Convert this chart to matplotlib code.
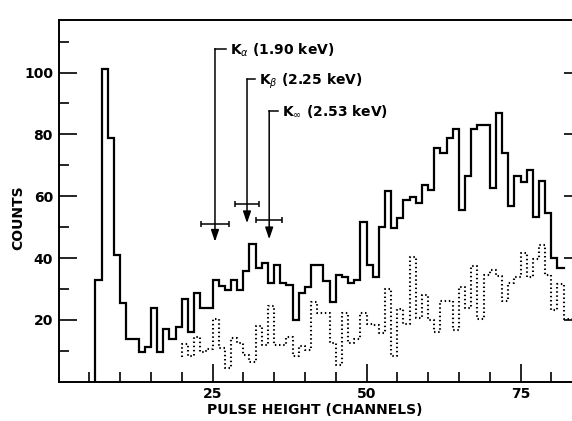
import numpy as np
import matplotlib
matplotlib.use('Agg')
import matplotlib.pyplot as plt

plt.rcParams['font.family'] = ['DejaVu Sans']
plt.rcParams['mathtext.fontset'] = 'dejavusans'

# pulse height spectrum, one value per channel
solid_start = 6
solid_counts = [33, 101, 79, 41, 25.4, 14, 14, 9.7, 11.4, 23.8,
                9.7, 17, 14, 17.8, 26.7, 16.2, 28.7, 24, 24, 32.8,
                31, 29.8, 32.8, 29.8, 35.8, 44.6, 36.8, 38.4, 32, 37.8,
                31.8, 31.3, 20, 28.8, 30.8, 37.7, 37.7, 32.7, 25.9, 34.6,
                34, 31.9, 32.8, 51.7, 37.9, 34, 50, 61.7, 49.7, 52.9,
                58.8, 59.6, 57.7, 63.7, 61.9, 75.6, 74, 78.8, 81.7, 55.6,
                66.6, 81.7, 82.9, 82.9, 62.6, 86.9, 74, 56.7, 66.6, 64.5,
                68.5, 53.4, 64.8, 54.5, 40, 36.7]

# background run (dotted)
dotted_start = 20
dotted_floor = 8
dotted_counts = [12.2, 8.3, 14.4, 9.5, 10.6, 20.2, 11, 4.4, 14.3, 12.6,
                 8.8, 6.3, 18.1, 11.9, 24.5, 11.9, 11.9, 14.4, 8.5, 11.6,
                 10.3, 25.9, 22.2, 22.2, 12.4, 5.4, 22.2, 12.4, 13.8, 22.2,
                 18.7, 18.4, 15.8, 29.9, 8.2, 23.5, 18.6, 40.5, 20.7, 28.2,
                 20.1, 16.2, 26.1, 26.1, 16.7, 30.5, 23.8, 37.5, 20.2, 34.6,
                 36, 34.2, 26.1, 31.9, 34, 41.8, 34, 39.6, 44.1, 34.6,
                 23.2, 31.6, 20.2, 20.2]

# K lines: name, energy, expected channel, channel uncertainty
k_names = [r'\alpha', r'\beta', r'\infty']
k_energy = [1.90, 2.25, 2.53]
k_channel = [25.4, 30.6, 34.2]
k_halfwidth = [2.3, 2.0, 2.1]

# where each marker sits on the plot
k_bar_y = [51.1, 57.5, 52.4]
k_tip_y = [45.3, 51.3, 46.1]
k_top_y = [107.7, 97.9, 87.6]
k_stub = [1.8, 1.35, 1.35]


def steps(start, counts, floor):
    edges = np.arange(start, start + len(counts) + 1)
    x = np.concatenate([[start], np.repeat(edges, 2)[1:-1]])
    y = np.concatenate([[floor], np.repeat(counts, 2)])
    return x, y


fig = plt.figure(figsize=(5.72, 4.21), dpi=100)
ax = fig.add_axes([0.1023, 0.0931, 0.9154, 0.8594])
ax.set_xlim(0, 85)
ax.set_ylim(0, 117)

x, y = steps(solid_start, solid_counts, 0)
ax.plot(x, y, color='k', lw=1.6, solid_joinstyle='miter')

x, y = steps(dotted_start, dotted_counts, dotted_floor)
ax.plot(x, y, color='k', lw=1.5, linestyle=(0, (0.7, 1.3)))

for name, e, ch, hw, by, ty, top, stub in zip(k_names, k_energy, k_channel, k_halfwidth,
                                              k_bar_y, k_tip_y, k_top_y, k_stub):
    ax.annotate('', xy=(ch, ty), xytext=(ch, top),
                arrowprops=dict(arrowstyle='-|>,head_length=0.5,head_width=0.17',
                                color='k', lw=1.1, mutation_scale=14,
                                shrinkA=0, shrinkB=0))
    ax.plot([ch, ch + stub], [top, top], color='k', lw=1.1)
    ax.errorbar(ch, by, xerr=hw, fmt='none', ecolor='k', elinewidth=1.1,
                capsize=2.3, capthick=1.1)
    ax.annotate(r'K$_{%s}$ (%.2f keV)' % (name, e), xy=(ch + stub, top),
                xytext=(3, -4), textcoords='offset points',
                ha='left', va='baseline', fontsize=10, fontweight='bold')

ax.set_xticks([25, 50, 75])
ax.set_xticks([5, 10, 15, 20, 30, 35, 40, 45, 55, 60, 65, 70, 80], minor=True)
ax.set_yticks([20, 40, 60, 80, 100])
ax.set_yticks([10, 30, 50, 70, 90, 110], minor=True)
ax.tick_params(which='major', direction='in', length=13, width=1.2,
               right=True, top=False, labelsize=10, pad=4)
ax.tick_params(which='minor', direction='in', length=7, width=1.2,
               right=True, top=False)
for lab in ax.get_xticklabels() + ax.get_yticklabels():
    lab.set_fontweight('bold')

for s in ax.spines.values():
    s.set_linewidth(1.4)

# axis titles sit in the narrow margins, so place them on the figure
fig.text(0.551, 0.026, 'PULSE HEIGHT (CHANNELS)', fontsize=10, fontweight='bold',
         ha='center', va='center')
fig.text(0.032, 0.482, 'COUNTS', fontsize=10, fontweight='bold',
         ha='center', va='center', rotation=90)

fig.savefig('out.png', dpi=100)
